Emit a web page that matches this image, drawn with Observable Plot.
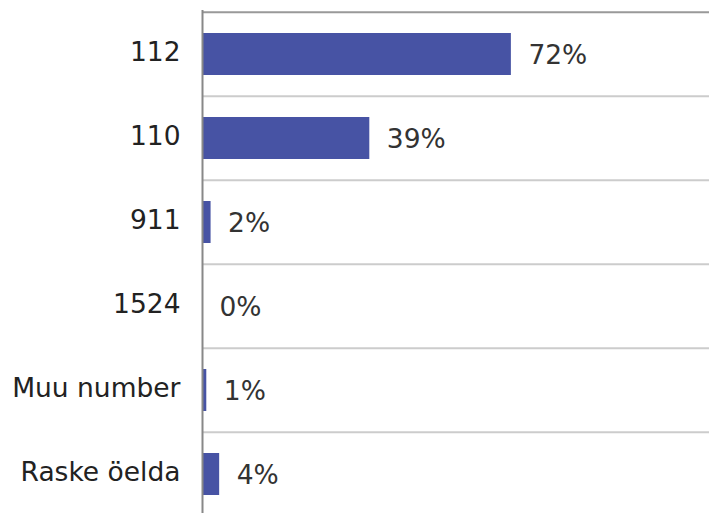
<!DOCTYPE html>
<html>
<head>
<meta charset="utf-8">
<script src="https://cdn.jsdelivr.net/npm/d3@7"></script>
<script src="https://cdn.jsdelivr.net/npm/@observablehq/plot@0.6"></script>
<style>
  html, body { margin: 0; padding: 0; background: #fff; overflow: hidden; }
</style>
</head>
<body>
<div id="chart"></div>
<script>
const categories = ["112", "110", "911", "1524", "Muu number", "Raske öelda"];
const values = [72, 39, 2, 0, 1, 4];

const data = categories.map((c, i) => ({cat: c, value: values[i]}));

const yRange = [10, 518];
const step = (yRange[1] - yRange[0]) / categories.length;

const chart = Plot.plot({
  width: 709,
  height: 513,
  marginLeft: 202,
  marginRight: 0,
  marginTop: 10,
  marginBottom: 0,
  style: {fontFamily: "DejaVu Sans, Verdana, sans-serif", fontSize: "26.5px", background: "#fff"},
  x: {domain: [0, 100], range: [202, 631], axis: null},
  y: {domain: categories, range: yRange, paddingInner: 0.5, paddingOuter: 0.25, label: null},
  marks: [
    Plot.ruleY(categories.slice(1), {y: d => d, dy: -step / 2, stroke: "#cccccc", strokeWidth: 2}),
    Plot.ruleY(categories.slice(0, 1), {y: d => d, dy: -step / 2, stroke: "#999999", strokeWidth: 2}),
    Plot.barX(data, {x: "value", y: "cat", fill: "#4753a4"}),
    Plot.ruleX([0], {stroke: "#888888", strokeWidth: 2}),
    Plot.text(data, {x: "value", y: "cat", text: d => d.value + "%", textAnchor: "start", dx: 17, dy: 1.5, fill: "#333333", fontSize: 26.5}),
    Plot.axisY({tickSize: 0, tickPadding: 22, fontSize: 26.5, fill: "#222222", dy: -2, label: null})
  ]
});

document.getElementById("chart").appendChild(chart);
</script>
</body>
</html>
